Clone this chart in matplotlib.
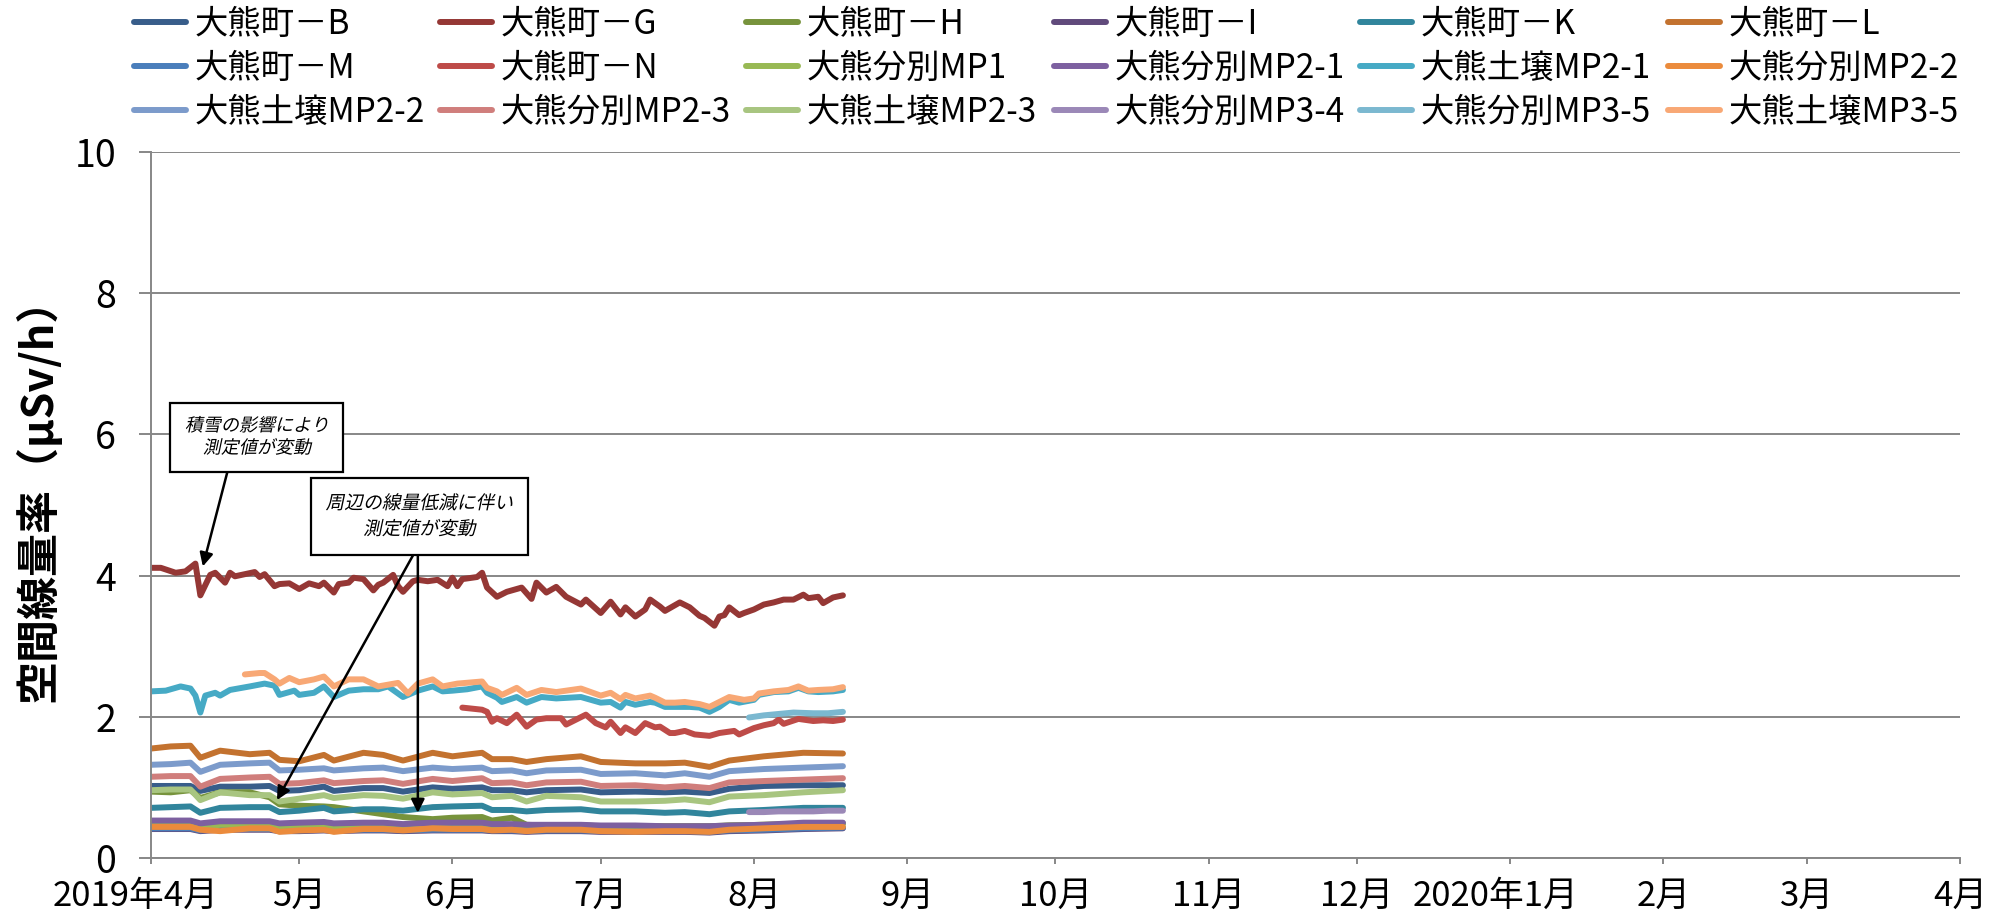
import numpy as np
import pandas as pd
import matplotlib
matplotlib.use('Agg')
import matplotlib.pyplot as plt
from matplotlib.patheffects import AbstractPathEffect
from matplotlib.transforms import Affine2D, ScaledTranslation

plt.rcParams['font.family'] = ['Noto Sans CJK JP', 'DejaVu Sans']

# days counted from 2019-04-01
start = np.datetime64('2019-04-01')

g_days = [0, 2, 5, 7, 9, 10, 12, 13, 15, 16, 17, 19, 21, 22, 23, 25, 26, 28, 30, 32,
          34, 35, 37, 38, 40, 41, 43, 45, 46, 47, 49, 50, 51, 53, 54, 56, 58, 60, 61, 62,
          63, 66, 67, 68, 70, 72, 75, 77, 78, 80, 82, 84, 87, 88, 91, 92, 93, 95, 96, 98,
          100, 101, 103, 104, 106, 107, 109, 111, 112, 114, 115, 116, 117, 119, 120, 122,
          124, 126, 128, 130, 132, 133, 135, 136, 138, 140]
g_vals = [4.11, 4.11, 4.04, 4.06, 4.17, 3.72, 4.01, 4.04, 3.90, 4.04, 3.99, 4.02, 4.05, 3.98,
          4.02, 3.85, 3.88, 3.89, 3.81, 3.89, 3.85, 3.90, 3.76, 3.88, 3.90, 3.97, 3.95, 3.79,
          3.87, 3.90, 4.01, 3.85, 3.77, 3.92, 3.94, 3.92, 3.94, 3.85, 3.97, 3.85, 3.95, 3.98,
          4.04, 3.83, 3.70, 3.77, 3.83, 3.67, 3.90, 3.76, 3.84, 3.70, 3.59, 3.66, 3.47, 3.55,
          3.63, 3.45, 3.55, 3.42, 3.52, 3.66, 3.56, 3.50, 3.58, 3.62, 3.55, 3.43, 3.40, 3.29,
          3.42, 3.44, 3.55, 3.44, 3.47, 3.52, 3.59, 3.62, 3.66, 3.66, 3.73, 3.68, 3.70, 3.61,
          3.69, 3.72]

soil21_days = [0, 3, 6, 8, 9, 10, 11, 13, 14, 16, 20, 23, 25, 26, 29, 30, 33, 35, 37, 40,
               43, 46, 48, 51, 54, 57, 59, 61, 64, 67, 68, 70, 71, 74, 76, 79, 82, 87, 91, 93,
               95, 96, 98, 101, 102, 104, 106, 109, 111, 113, 115, 117, 119, 122, 123, 126,
               129, 131, 133, 135, 138, 140]
soil21_vals = [2.36, 2.37, 2.43, 2.40, 2.30, 2.06, 2.30, 2.34, 2.30, 2.38, 2.43, 2.47, 2.44,
               2.31, 2.37, 2.31, 2.34, 2.43, 2.28, 2.37, 2.39, 2.39, 2.43, 2.28, 2.37, 2.43,
               2.36, 2.37, 2.39, 2.43, 2.34, 2.27, 2.21, 2.28, 2.20, 2.28, 2.26, 2.28, 2.20,
               2.21, 2.13, 2.21, 2.17, 2.21, 2.20, 2.14, 2.14, 2.14, 2.13, 2.07, 2.14, 2.24,
               2.20, 2.24, 2.31, 2.35, 2.36, 2.41, 2.36, 2.35, 2.36, 2.38]

soil35_days = [19, 22, 23, 25, 26, 28, 30, 33, 35, 37, 40, 43, 46, 50, 52, 54, 57, 59, 62,
               67, 68, 70, 71, 74, 76, 79, 82, 87, 91, 93, 95, 96, 98, 101, 102, 104, 106,
               108, 111, 113, 115, 117, 120, 122, 123, 126, 129, 131, 133, 135, 138, 140]
soil35_vals = [2.60, 2.62, 2.62, 2.53, 2.47, 2.55, 2.49, 2.53, 2.57, 2.43, 2.53, 2.53, 2.43,
               2.48, 2.33, 2.47, 2.53, 2.43, 2.47, 2.50, 2.41, 2.36, 2.31, 2.41, 2.31, 2.38,
               2.35, 2.40, 2.30, 2.34, 2.25, 2.31, 2.26, 2.30, 2.27, 2.20, 2.20, 2.21, 2.18,
               2.14, 2.21, 2.28, 2.24, 2.26, 2.33, 2.36, 2.38, 2.43, 2.37, 2.38, 2.39, 2.42]

n_days = [63, 67, 68, 69, 70, 72, 74, 76, 78, 80, 83, 84, 88, 90, 92, 93, 95, 96, 98, 100,
          102, 103, 105, 106, 108, 110, 113, 115, 118, 119, 122, 124, 126, 127, 128, 131,
          134, 136, 138, 140]
n_vals = [2.13, 2.10, 2.07, 1.93, 1.98, 1.91, 2.03, 1.86, 1.96, 1.98, 1.98, 1.89, 2.03, 1.91,
          1.85, 1.93, 1.77, 1.85, 1.77, 1.91, 1.85, 1.86, 1.77, 1.77, 1.80, 1.75, 1.73, 1.77,
          1.80, 1.75, 1.84, 1.88, 1.91, 1.96, 1.90, 1.97, 1.94, 1.95, 1.94, 1.96]

late_days = [121, 124, 127, 130, 134, 137, 140]
sep35_vals = [1.99, 2.02, 2.04, 2.06, 2.05, 2.05, 2.07]
sep34_vals = [0.65, 0.65, 0.66, 0.66, 0.66, 0.67, 0.67]

# shared sampling days for the lower group of stations
lower_days = [0, 4, 8, 10, 14, 20, 24, 26, 30, 35, 37, 43, 47, 51, 57, 61, 67, 69, 73, 76,
              80, 87, 91, 98, 104, 108, 113, 117, 124, 132, 140]
l_vals = [1.55, 1.58, 1.59, 1.42, 1.52, 1.47, 1.49, 1.39, 1.37, 1.46, 1.38, 1.49, 1.46, 1.38,
          1.49, 1.44, 1.49, 1.40, 1.40, 1.36, 1.40, 1.44, 1.36, 1.34, 1.34, 1.35, 1.29, 1.38,
          1.44, 1.49, 1.48]
soil22_vals = [1.32, 1.33, 1.35, 1.22, 1.32, 1.34, 1.35, 1.24, 1.25, 1.27, 1.24, 1.27, 1.28,
               1.23, 1.28, 1.26, 1.28, 1.23, 1.24, 1.20, 1.24, 1.25, 1.19, 1.20, 1.17, 1.20,
               1.15, 1.23, 1.26, 1.28, 1.30]
sep23_vals = [1.15, 1.16, 1.16, 1.01, 1.12, 1.14, 1.15, 1.05, 1.06, 1.10, 1.06, 1.09, 1.10,
              1.05, 1.12, 1.09, 1.13, 1.06, 1.07, 1.03, 1.07, 1.08, 1.02, 1.03, 1.00, 1.02,
              0.99, 1.07, 1.09, 1.11, 1.13]
b_vals = [1.02, 1.02, 1.02, 0.95, 1.01, 1.01, 1.02, 0.95, 0.96, 1.01, 0.95, 0.99, 0.99, 0.94,
          1.00, 0.98, 1.00, 0.96, 0.96, 0.93, 0.96, 0.97, 0.93, 0.94, 0.93, 0.94, 0.92, 0.98,
          1.02, 1.03, 1.03]
soil23_vals = [0.96, 0.97, 0.97, 0.82, 0.93, 0.89, 0.89, 0.80, 0.84, 0.89, 0.85, 0.89, 0.88,
               0.84, 0.93, 0.90, 0.92, 0.86, 0.88, 0.80, 0.88, 0.86, 0.80, 0.80, 0.81, 0.83,
               0.79, 0.87, 0.89, 0.93, 0.96]
k_vals = [0.71, 0.72, 0.73, 0.64, 0.71, 0.72, 0.72, 0.65, 0.67, 0.71, 0.66, 0.69, 0.69, 0.67,
          0.72, 0.73, 0.74, 0.68, 0.68, 0.66, 0.68, 0.69, 0.66, 0.66, 0.64, 0.65, 0.62, 0.66,
          0.68, 0.71, 0.71]
h_vals = [0.94, 0.93, 0.96, 0.85, 0.93, 0.93, 0.86, 0.76, 0.74, 0.73, 0.72, 0.66, 0.62, 0.58,
          0.55, 0.57, 0.58, 0.53, 0.57, 0.47, 0.46, 0.46, 0.45, 0.45, 0.45, 0.45, 0.45, 0.46,
          0.47, 0.48, 0.49]
mp1_vals = [0.47, 0.47, 0.47, 0.44, 0.47, 0.47, 0.47, 0.45, 0.46, 0.46, 0.45, 0.46, 0.46,
            0.45, 0.46, 0.46, 0.46, 0.45, 0.45, 0.44, 0.45, 0.46, 0.45, 0.45, 0.45, 0.45,
            0.44, 0.46, 0.47, 0.48, 0.48]
sep21_vals = [0.53, 0.53, 0.53, 0.49, 0.52, 0.52, 0.52, 0.49, 0.50, 0.51, 0.49, 0.50, 0.50,
              0.48, 0.50, 0.50, 0.50, 0.48, 0.48, 0.47, 0.47, 0.47, 0.46, 0.46, 0.45, 0.45,
              0.45, 0.46, 0.47, 0.50, 0.50]
sep22_vals = [0.44, 0.44, 0.44, 0.40, 0.38, 0.42, 0.42, 0.37, 0.39, 0.40, 0.37, 0.41, 0.41,
              0.39, 0.42, 0.41, 0.41, 0.39, 0.40, 0.38, 0.40, 0.40, 0.38, 0.37, 0.38, 0.38,
              0.37, 0.40, 0.42, 0.44, 0.44]
i_vals = [0.41, 0.41, 0.41, 0.38, 0.40, 0.40, 0.40, 0.38, 0.38, 0.39, 0.38, 0.39, 0.39, 0.38,
          0.39, 0.39, 0.39, 0.38, 0.38, 0.37, 0.38, 0.38, 0.37, 0.37, 0.37, 0.37, 0.36, 0.38,
          0.39, 0.41, 0.42]
m_vals = [0.42, 0.42, 0.42, 0.39, 0.41, 0.41, 0.41, 0.39, 0.39, 0.40, 0.39, 0.40, 0.40, 0.39,
          0.40, 0.40, 0.40, 0.39, 0.39, 0.38, 0.39, 0.39, 0.38, 0.38, 0.38, 0.38, 0.37, 0.39,
          0.40, 0.42, 0.43]

names = ['大熊町－B', '大熊町－G', '大熊町－H', '大熊町－I', '大熊町－K', '大熊町－L',
         '大熊町－M', '大熊町－N', '大熊分別MP1', '大熊分別MP2-1', '大熊土壌MP2-1', '大熊分別MP2-2',
         '大熊土壌MP2-2', '大熊分別MP2-3', '大熊土壌MP2-3', '大熊分別MP3-4', '大熊分別MP3-5', '大熊土壌MP3-5']
colors = ['#385D8A', '#953735', '#77933C', '#604A7B', '#31859C', '#C3722F',
          '#4A7EBB', '#BE4B48', '#98B954', '#7D60A0', '#46AAC5', '#EB8B3C',
          '#7C9BCB', '#D07E7C', '#A8C580', '#9B88B7', '#7BB8D0', '#F8A875']
series_days = [lower_days, g_days, lower_days, lower_days, lower_days, lower_days,
               lower_days, n_days, lower_days, lower_days, soil21_days, lower_days,
               lower_days, lower_days, lower_days, late_days, late_days, soil35_days]
series_vals = [b_vals, g_vals, h_vals, i_vals, k_vals, l_vals,
               m_vals, n_vals, mp1_vals, sep21_vals, soil21_vals, sep22_vals,
               soil22_vals, sep23_vals, soil23_vals, sep34_vals, sep35_vals, soil35_vals]

month_ticks = pd.date_range('2019-04-01', '2020-04-01', freq='MS')
month_labels = ['2019年4月', '5月', '6月', '7月', '8月', '9月', '10月', '11月', '12月',
                '2020年1月', '2月', '3月', '4月']


class Oblique(AbstractPathEffect):
    """Slants glyph outlines so CJK text looks italic."""

    def __init__(self, angle=12):
        super().__init__()
        self.angle = angle

    def draw_path(self, renderer, gc, tpath, affine, rgbFace=None):
        renderer.draw_path(gc, tpath, Affine2D().skew_deg(self.angle, 0) + affine, rgbFace)


def day(d):
    return start + np.timedelta64(int(round(d * 24)), 'h')


fig = plt.figure(figsize=(19.99, 9.19), dpi=100)
ax = fig.add_axes([0.0755, 0.0664, 0.905, 0.7682])

lines = []
for name, color, d, v in zip(names, colors, series_days, series_vals):
    x = start + np.array(d, dtype='timedelta64[D]')
    ln, = ax.plot(x, v, color=color, lw=4.3, solid_joinstyle='round',
                  solid_capstyle='round', label=name)
    lines.append(ln)

grey = '#878787'
ax.set_xlim(month_ticks[0], month_ticks[-1])
ax.set_ylim(0, 10)
ax.set_yticks(range(0, 11, 2))
ax.set_xticks(month_ticks)
ax.set_xticklabels(month_labels)
ax.yaxis.grid(True, color=grey, lw=1.4)
ax.set_axisbelow(True)
for side in ['top', 'right']:
    ax.spines[side].set_visible(False)
for side in ['left', 'bottom']:
    ax.spines[side].set_color(grey)
    ax.spines[side].set_linewidth(1.4)
ax.tick_params(axis='y', length=9, width=1.4, color=grey, labelsize=27, pad=16)
ax.tick_params(axis='x', length=4, width=1.4, color=grey, labelsize=25, pad=11)
# the long year labels sit a little left of their ticks
for lbl in ax.get_xticklabels():
    if '年' in lbl.get_text():
        lbl.set_transform(lbl.get_transform() + ScaledTranslation(-0.15, 0, fig.dpi_scale_trans))
ax.set_ylabel('空間線量率（μSv/h）', fontsize=31, fontweight='bold', va='center')
ax.yaxis.set_label_coords(-0.0625, 0.522)

# callouts
slant = [Oblique()]
box = dict(boxstyle='square,pad=0.8', fc='white', ec='black', lw=1.6)
ax.text(day(21.4), 5.96, '積雪の影響により\n測定値が変動', ha='center', va='center',
        fontsize=13, linespacing=1.3, path_effects=slant, bbox=box, zorder=6)
ax.text(day(54.3), 4.84, '周辺の線量低減に伴い\n測定値が変動', ha='center', va='center',
        fontsize=13.5, linespacing=1.3, path_effects=slant, bbox=box, zorder=6)
arrow = dict(arrowstyle='-|>', color='black', lw=1.8, mutation_scale=20, shrinkA=0, shrinkB=0)
for tail, tip in [((15.6, 5.5), (10.5, 4.13)),
                  ((54.0, 4.41), (25.5, 0.82)),
                  ((54.0, 4.41), (54.0, 0.64))]:
    ax.annotate('', xy=(day(tip[0]), tip[1]), xytext=(day(tail[0]), tail[1]),
                arrowprops=arrow, zorder=5)

# legend: six columns of three entries, evenly spaced across the top
col_x = [134, 440, 746, 1054, 1360, 1668]
for j, x0 in enumerate(col_x):
    fig.legend(handles=lines[j::6], loc='upper left', bbox_to_anchor=(x0 / 1999, 1 - 7 / 919),
               frameon=False, fontsize=24, handlelength=1.55, handletextpad=0.27,
               labelspacing=0.27, borderpad=0, borderaxespad=0)

fig.savefig('out.png', dpi=100)
